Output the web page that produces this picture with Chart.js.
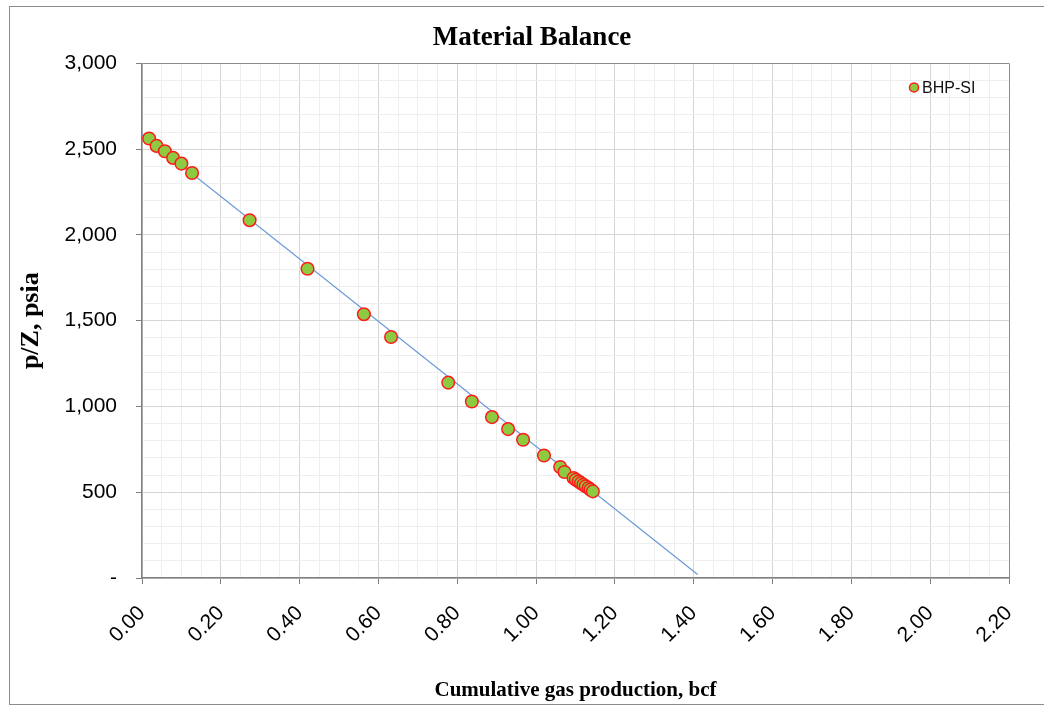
<!DOCTYPE html>
<html>
<head>
<meta charset="utf-8">
<title>Material Balance</title>
<script src="https://cdn.jsdelivr.net/npm/chart.js@4.4.1/dist/chart.umd.min.js"></script>
<style>
    html, body { margin: 0; padding: 0; background: #fff; }
    #wrap { width: 1044px; height: 707px; }
</style>
</head>
<body>
<div id="wrap"><canvas id="mainChart" width="1044" height="707"></canvas></div>
<script>
// --- DATA ---
const seriesName = 'BHP-SI';
const gasProd = [0.018, 0.037, 0.058, 0.079, 0.100, 0.127, 0.273, 0.420, 0.563, 0.632,
                 0.777, 0.837, 0.888, 0.929, 0.967, 1.020, 1.061, 1.072, 1.095, 1.101,
                 1.108, 1.114, 1.120, 1.126, 1.133, 1.138, 1.144];
const pOverZ = [2562, 2519, 2488, 2449, 2416, 2361, 2086, 1803, 1538, 1405,
                1139, 1029, 938, 868, 806, 714, 647, 618, 583, 573,
                563, 553, 544, 535, 525, 515, 505];

// straight-line fit drawn through the points
const fitX = [0, 1.41];
const fitY = [2588, 20];

const xTickLabels = ['0.00', '0.20', '0.40', '0.60', '0.80', '1.00', '1.20', '1.40', '1.60', '1.80', '2.00', '2.20'];
const yTickLabels = ['-', '500', '1,000', '1,500', '2,000', '2,500', '3,000'];

// --- HELPERS ---
const isMajorX = v => Math.abs(v / 0.2 - Math.round(v / 0.2)) < 1e-6;
const isMajorY = v => Math.abs(v % 500) < 1e-6;

function gridColor(majorFn, edge) {
    return ctx => {
        if (!ctx.tick) return '#eeeeee';
        if (Math.abs(ctx.tick.value - edge) < 1e-6) return '#8c8c8c';
        return majorFn(ctx.tick.value) ? '#d6d6d6' : '#eeeeee';
    };
}
function tickColor(majorFn) {
    return ctx => (ctx.tick && majorFn(ctx.tick.value)) ? '#7f7f7f' : 'rgba(0,0,0,0)';
}

// white page + outer frame
const framePlugin = {
    id: 'frame',
    beforeDraw(chart) {
        const c = chart.ctx;
        c.save();
        c.fillStyle = '#fff';
        c.fillRect(0, 0, chart.width, chart.height);
        c.strokeStyle = '#8c8c8c';
        c.lineWidth = 1;
        c.strokeRect(9.5, 6.5, 1100, 698);
        c.restore();
    }
};

// legend drawn inside the plot area, top right
const innerLegend = {
    id: 'innerLegend',
    afterDraw(chart) {
        const c = chart.ctx;
        const ds = chart.data.datasets[0];
        const a = chart.chartArea;
        const x = a.right - 95, y = a.top + 24;
        c.save();
        c.beginPath();
        c.arc(x, y, 4.5, 0, Math.PI * 2);
        c.fillStyle = ds.pointBackgroundColor;
        c.fill();
        c.lineWidth = 1.5;
        c.strokeStyle = ds.pointBorderColor;
        c.stroke();
        c.fillStyle = '#111';
        c.font = '16px "Liberation Sans", Arial, sans-serif';
        c.textBaseline = 'middle';
        c.fillText(ds.label, x + 8, y + 1);
        c.restore();
    }
};

const ctx = document.getElementById('mainChart').getContext('2d');
const mainChart = new Chart(ctx, {
    type: 'scatter',
    data: {
        datasets: [
            {
                label: seriesName,
                data: gasProd.map((x, i) => ({ x, y: pOverZ[i] })),
                pointRadius: 6.3,
                pointBackgroundColor: '#8DC941',
                pointBorderColor: '#FF1A1A',
                pointBorderWidth: 1.5,
                showLine: false,
                order: 0
            },
            {
                label: 'fit',
                data: fitX.map((x, i) => ({ x, y: fitY[i] })),
                showLine: true,
                borderColor: '#6A9AD6',
                borderWidth: 1.2,
                pointRadius: 0,
                order: 1
            }
        ]
    },
    options: {
        responsive: false,
        animation: false,
        devicePixelRatio: 1,
        layout: { padding: { top: 0, left: 55, right: 35, bottom: 0 } },
        plugins: {
            legend: { display: false },
            tooltip: { enabled: false },
            title: {
                display: true,
                text: 'Material Balance',
                color: '#000',
                font: { family: '"Liberation Serif", "Times New Roman", serif', size: 27, weight: 'bold' },
                padding: { top: 22, bottom: 9 }
            }
        },
        scales: {
            x: {
                type: 'linear',
                min: 0, max: 2.2,
                afterFit: s => { s.height = 129; },
                border: { color: '#7f7f7f', width: 1.5 },
                grid: { color: gridColor(isMajorX, 2.2), tickColor: tickColor(isMajorX), tickLength: 6, lineWidth: 1 },
                ticks: {
                    stepSize: 0.05,
                    autoSkip: false,
                    maxRotation: 45, minRotation: 45,
                    padding: 17,
                    color: '#000',
                    font: { family: '"Liberation Sans", Arial, sans-serif', size: 21 },
                    callback: v => isMajorX(v) ? xTickLabels[Math.round(v / 0.2)] : ''
                },
                title: {
                    display: true,
                    text: 'Cumulative gas production, bcf',
                    color: '#000',
                    font: { family: '"Liberation Serif", "Times New Roman", serif', size: 21, weight: 'bold' },
                    padding: { top: 0, bottom: 4 }
                }
            },
            y: {
                min: 0, max: 3000,
                afterFit: s => { s.width = 87; },
                border: { color: '#7f7f7f', width: 1.5 },
                grid: { color: gridColor(isMajorY, 3000), tickColor: tickColor(isMajorY), tickLength: 6, lineWidth: 1 },
                ticks: {
                    stepSize: 100,
                    autoSkip: false,
                    padding: 19,
                    color: '#000',
                    font: { family: '"Liberation Sans", Arial, sans-serif', size: 21 },
                    callback: v => isMajorY(v) ? yTickLabels[Math.round(v / 500)] : ''
                },
                title: {
                    display: true,
                    text: 'p/Z, psia',
                    color: '#000',
                    font: { family: '"Liberation Serif", "Times New Roman", serif', size: 26, weight: 'bold' },
                    padding: { top: -39.6, bottom: 0 }
                }
            }
        }
    },
    plugins: [framePlugin, innerLegend]
});
</script>
</body>
</html>
